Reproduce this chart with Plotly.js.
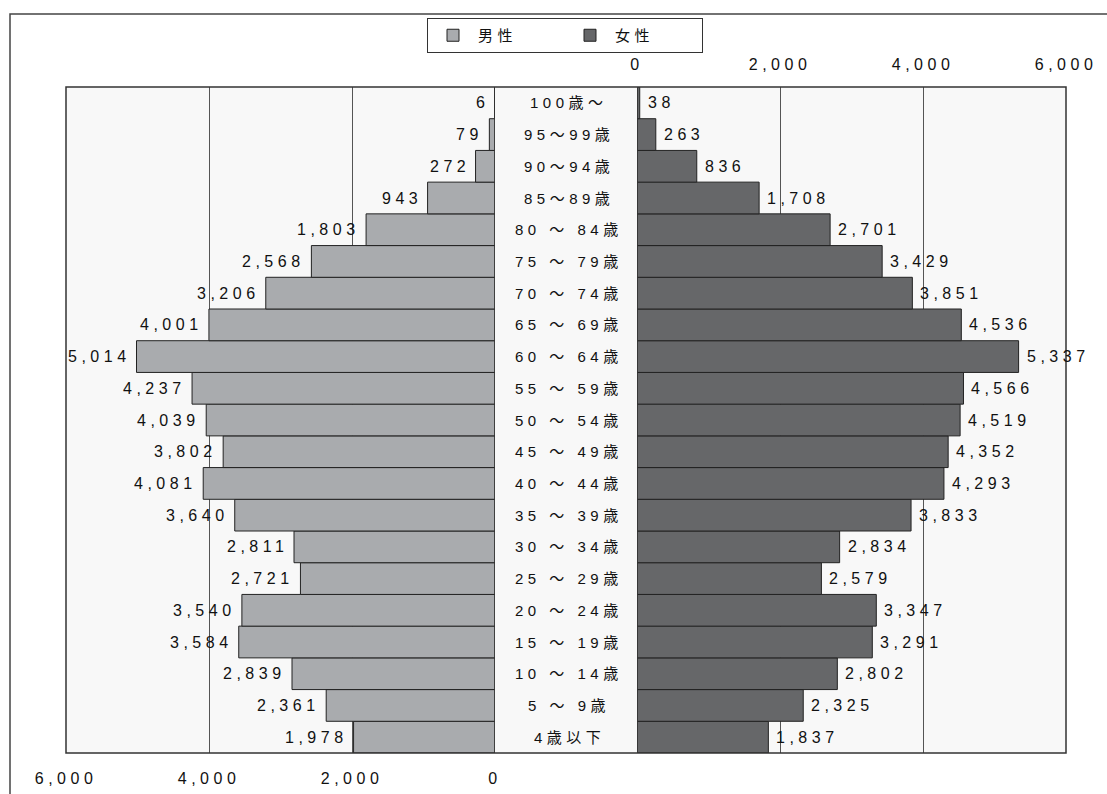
<!DOCTYPE html>
<html>
<head>
<meta charset="utf-8">
<script src="https://cdn.plot.ly/plotly-3.0.1.min.js"></script>
<style>
  html, body { margin: 0; padding: 0; background: #ffffff; }
  #chart { width: 1107px; height: 794px; }
  svg text { letter-spacing: 4.5px; }
</style>
</head>
<body>
<div id="chart"></div>
<script>
// Age groups, youngest first (bottom of the pyramid)
const ageGroups = [
  '4歳以下', '5 ～ 9歳', '10 ～ 14歳', '15 ～ 19歳', '20 ～ 24歳',
  '25 ～ 29歳', '30 ～ 34歳', '35 ～ 39歳', '40 ～ 44歳', '45 ～ 49歳',
  '50 ～ 54歳', '55 ～ 59歳', '60 ～ 64歳', '65 ～ 69歳', '70 ～ 74歳',
  '75 ～ 79歳', '80 ～ 84歳', '85～89歳', '90～94歳', '95～99歳', '100歳～'
];
const male = [
  1978, 2361, 2839, 3584, 3540, 2721, 2811, 3640, 4081, 3802,
  4039, 4237, 5014, 4001, 3206, 2568, 1803, 943, 272, 79, 6
];
const female = [
  1837, 2325, 2802, 3291, 3347, 2579, 2834, 3833, 4293, 4352,
  4519, 4566, 5337, 4536, 3851, 3429, 2701, 1708, 836, 263, 38
];
const seriesNames = ['男性', '女性'];
const axisTicks = [0, 2000, 4000, 6000];

const FONT = '"Liberation Sans", "Noto Sans CJK JP", sans-serif';
const MALE_COLOR = '#a9abae';
const FEMALE_COLOR = '#666769';
const TEXT_COLOR = '#111111';
const fmt = v => v.toLocaleString('en-US');

const traces = [
  {
    type: 'bar', orientation: 'h', name: seriesNames[0],
    y: ageGroups, x: male, xaxis: 'x', yaxis: 'y',
    marker: { color: MALE_COLOR, line: { color: '#222222', width: 1 } },
    hoverinfo: 'skip'
  },
  {
    type: 'bar', orientation: 'h', name: seriesNames[1],
    y: ageGroups, x: female, xaxis: 'x2', yaxis: 'y',
    marker: { color: FEMALE_COLOR, line: { color: '#222222', width: 1 } },
    hoverinfo: 'skip'
  }
];

const annotations = [];
ageGroups.forEach((g, i) => {
  // age-group label in the centre column
  annotations.push({
    xref: 'paper', yref: 'y', x: 0.5, y: g, text: g, showarrow: false,
    xanchor: 'center', yanchor: 'middle', xshift: 3,
    font: { family: FONT, size: 15, color: TEXT_COLOR }
  });
  // male value, left of the bar end
  annotations.push({
    xref: 'x', yref: 'y', x: male[i], y: g, text: fmt(male[i]), showarrow: false,
    xanchor: 'right', yanchor: 'middle', xshift: -4,
    font: { family: FONT, size: 16, color: TEXT_COLOR }
  });
  // female value, right of the bar end
  annotations.push({
    xref: 'x2', yref: 'y', x: female[i], y: g, text: fmt(female[i]), showarrow: false,
    xanchor: 'left', yanchor: 'middle', xshift: 6,
    font: { family: FONT, size: 16, color: TEXT_COLOR }
  });
});

const shapes = [
  // panel background
  { type: 'rect', xref: 'paper', yref: 'paper', x0: 0, x1: 1, y0: 0, y1: 1,
    fillcolor: '#f8f8f8', line: { width: 0 }, layer: 'below' },
  // outer frame
  { type: 'rect', xref: 'paper', yref: 'paper', x0: -0.056, x1: 1.2, y0: -0.2, y1: 1.1096,
    fillcolor: 'rgba(0,0,0,0)', line: { color: '#444444', width: 1.5 }, layer: 'below' },
  // zero lines of both panels
  { type: 'line', xref: 'x', yref: 'paper', x0: 0, x1: 0, y0: 0, y1: 1,
    line: { color: '#333333', width: 1.5 }, layer: 'above' },
  { type: 'line', xref: 'x2', yref: 'paper', x0: 0, x1: 0, y0: 0, y1: 1,
    line: { color: '#333333', width: 1.5 }, layer: 'above' },
  // panel border
  { type: 'rect', xref: 'paper', yref: 'paper', x0: 0, x1: 1, y0: 0, y1: 1,
    fillcolor: 'rgba(0,0,0,0)', line: { color: '#333333', width: 1.5 }, layer: 'above' }
];

const tickFont = { family: FONT, size: 16, color: TEXT_COLOR };

const layout = {
  width: 1107, height: 794,
  margin: { l: 66, r: 41, t: 87, b: 41, autoexpand: false },
  paper_bgcolor: '#ffffff',
  plot_bgcolor: 'rgba(0,0,0,0)',
  bargap: 0,
  showlegend: true,
  legend: {
    orientation: 'h', x: 0.499, xanchor: 'center', y: 1.1036, yanchor: 'top',
    bordercolor: '#333333', borderwidth: 1, bgcolor: '#ffffff',
    itemwidth: 40, entrywidth: 82, entrywidthmode: 'pixels',
    font: { family: FONT, size: 15, color: TEXT_COLOR },
    itemclick: false, itemdoubleclick: false
  },
  xaxis: {
    domain: [0, 0.429], range: [6000, 0], anchor: 'y',
    tickvals: axisTicks, tickformat: ',d', tickfont: tickFont,
    showgrid: true, gridcolor: '#555555', gridwidth: 1, zeroline: false,
    ticks: 'outside', ticklen: 11, tickcolor: 'rgba(0,0,0,0)',
    side: 'bottom', fixedrange: true
  },
  xaxis2: {
    domain: [0.571, 1], range: [0, 6000], anchor: 'y',
    tickvals: axisTicks, tickformat: ',d', tickfont: tickFont,
    showgrid: true, gridcolor: '#555555', gridwidth: 1, zeroline: false,
    ticks: 'outside', ticklen: 10, tickcolor: 'rgba(0,0,0,0)',
    side: 'top', fixedrange: true
  },
  yaxis: {
    type: 'category', range: [-0.5, ageGroups.length - 0.5],
    showticklabels: false, showgrid: false, zeroline: false, fixedrange: true
  },
  shapes: shapes,
  annotations: annotations
};

Plotly.newPlot('chart', traces, layout, { displayModeBar: false, staticPlot: true });
</script>
</body>
</html>
